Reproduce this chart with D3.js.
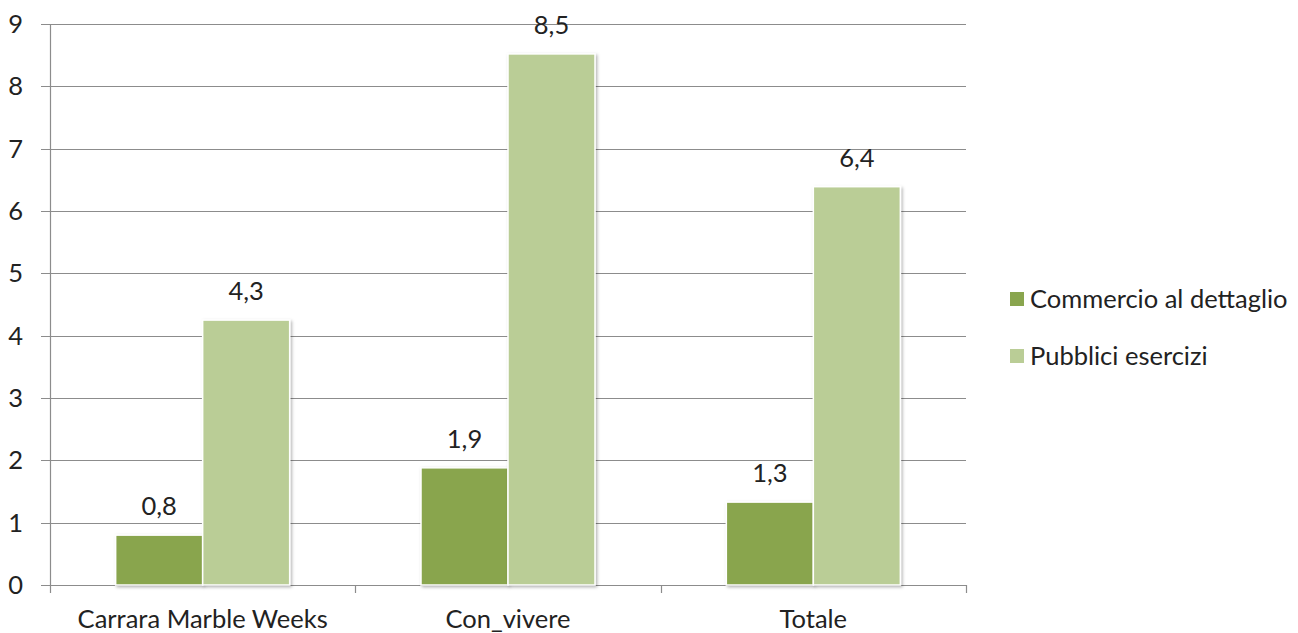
<!DOCTYPE html>
<html>
<head>
<meta charset="utf-8">
<script src="https://cdn.jsdelivr.net/npm/d3@7"></script>
<style>
  body { margin: 0; background: #fff; }
  text { font-family: Lato, "Noto Sans", sans-serif; fill: #222; }
</style>
</head>
<body>
<div id="chart"></div>
<script>
// data (labels show them rounded to one decimal)
var categories = ['Carrara Marble Weeks', 'Con_vivere', 'Totale'];
var seriesNames = ['Commercio al dettaglio', 'Pubblici esercizi'];
var commercio = [0.8, 1.88, 1.33];
var pubblici = [4.25, 8.52, 6.39];
var yTicks = [0, 1, 2, 3, 4, 5, 6, 7, 8, 9];

var colors = ['#89a54e', '#bacd96'];
var fontSize = '25.5px';
var width = 1298, height = 633;
var margin = {left: 50, top: 24, right: 332, bottom: 48};
var plotW = width - margin.left - margin.right;
var plotH = height - margin.top - margin.bottom;

var svg = d3.select('#chart').append('svg')
	.attr('width', width)
	.attr('height', height);

var defs = svg.append('defs');
var f = defs.append('filter').attr('id', 'shadow').attr('x', '-10%').attr('y', '-10%').attr('width', '130%').attr('height', '130%');
f.append('feDropShadow').attr('dx', 1.5).attr('dy', 1.5).attr('stdDeviation', 1.5).attr('flood-color', '#000').attr('flood-opacity', 0.3);

var g = svg.append('g')
	.attr('transform', 'translate(' + margin.left + ',' + margin.top + ')');

var x = d3.scaleBand().domain(categories).range([0, plotW]);
var y = d3.scaleLinear().domain([0, 9]).range([plotH, 0]);
var barW = 87;

// gridlines + y ticks
g.selectAll('.grid').data(yTicks).enter().append('line')
	.attr('x1', -9).attr('x2', plotW)
	.attr('y1', function(d){ return Math.round(y(d)) + 0.5; })
	.attr('y2', function(d){ return Math.round(y(d)) + 0.5; })
	.attr('stroke', '#8c8c8c').attr('stroke-width', 1.2);

g.selectAll('.ylab').data(yTicks).enter().append('text')
	.attr('x', -27)
	.attr('y', function(d){ return y(d); })
	.attr('dy', '0.35em')
	.attr('text-anchor', 'end')
	.style('font-size', fontSize)
	.text(function(d){ return d; });

// y axis line
g.append('line').attr('x1', 0.5).attr('x2', 0.5).attr('y1', 0).attr('y2', plotH + 8)
	.attr('stroke', '#8c8c8c').attr('stroke-width', 1.2);

// category ticks
var catTicks = categories.map(function(c){ return x(c) + x.bandwidth(); });
g.selectAll('.xtick').data(catTicks).enter().append('line')
	.attr('x1', function(d){ return Math.round(d) + 0.5; })
	.attr('x2', function(d){ return Math.round(d) + 0.5; })
	.attr('y1', plotH).attr('y2', plotH + 8)
	.attr('stroke', '#8c8c8c').attr('stroke-width', 1.2);

g.selectAll('.xlab').data(categories).enter().append('text')
	.attr('x', function(d){ return x(d) + x.bandwidth() / 2; })
	.attr('y', plotH + 43)
	.attr('text-anchor', 'middle')
	.style('font-size', fontSize)
	.text(function(d){ return d; });

// bars
var series = [commercio, pubblici];
series.forEach(function(vals, si){
	var off = si === 0 ? -barW : 0;
	g.selectAll('.bar' + si).data(vals).enter().append('rect')
		.attr('x', function(d, i){ return x(categories[i]) + x.bandwidth() / 2 + off; })
		.attr('y', function(d){ return y(d); })
		.attr('width', barW)
		.attr('height', function(d){ return plotH - y(d); })
		.attr('fill', colors[si])
		.attr('stroke', '#fff')
		.attr('stroke-width', 1.5)
		.attr('filter', 'url(#shadow)');

	g.selectAll('.val' + si).data(vals).enter().append('text')
		.attr('x', function(d, i){ return x(categories[i]) + x.bandwidth() / 2 + off + barW / 2; })
		.attr('y', function(d){ return y(d) - 20; })
		.attr('text-anchor', 'middle')
		.style('font-size', fontSize)
		.text(function(d){ return d3.format('.1f')(d).replace('.', ','); });
});

// legend
var legend = svg.append('g').attr('transform', 'translate(1010,292)');
seriesNames.forEach(function(name, i){
	var row = legend.append('g').attr('transform', 'translate(0,' + (i * 57) + ')');
	row.append('rect').attr('width', 14).attr('height', 14).attr('fill', colors[i]);
	row.append('text').attr('x', 20).attr('y', 7).attr('dy', '0.35em')
		.style('font-size', fontSize).text(name);
});
</script>
</body>
</html>
